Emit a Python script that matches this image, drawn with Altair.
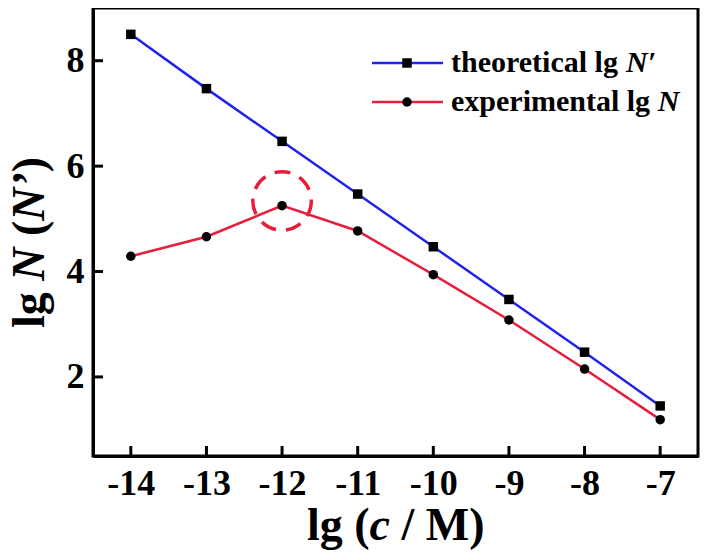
import altair as alt
import pandas as pd

# ---------------- data ----------------
lg_c = [-14, -13, -12, -11, -10, -9, -8, -7]
theoretical = [8.50, 7.47, 6.47, 5.47, 4.47, 3.47, 2.47, 1.45]
experimental = [4.29, 4.66, 5.25, 4.77, 3.94, 3.08, 2.15, 1.19]
x_ticks = [-14, -13, -12, -11, -10, -9, -8, -7]
y_ticks = [2, 4, 6, 8]
highlight_x = [-12]
highlight_y = [5.34]

# ---------------- style ----------------
W, H = 605, 448
BLUE = "#2222ee"
RED = "#e61e3c"
FONT = "Liberation Serif"

xs = alt.Scale(domain=[-14.5, -6.5], nice=False, zero=False)
ys = alt.Scale(domain=[0.5, 9.0], nice=False, zero=False)

x_axis = alt.Axis(values=x_ticks, title=None, ticks=False, grid=False,
                  labelExpr="datum.value + ''", labelFont=FONT, labelFontSize=36,
                  labelFontWeight="bold", labelColor="black", labelPadding=10,
                  labelFlush=False, domainColor="black", domainWidth=3)
y_axis = alt.Axis(values=y_ticks, title=None, ticks=False, grid=False,
                  labelExpr="datum.value + ''", labelFont=FONT, labelFontSize=36,
                  labelFontWeight="bold", labelColor="black", labelPadding=9,
                  labelFlush=False, domainColor="black", domainWidth=3)

df_t = pd.DataFrame({"x": lg_c, "y": theoretical})
df_e = pd.DataFrame({"x": lg_c, "y": experimental})

def xq(f="x"):
    return alt.X(f + ":Q", scale=xs, axis=x_axis)

def yq(f="y"):
    return alt.Y(f + ":Q", scale=ys, axis=y_axis)

theo_line = alt.Chart(df_t).mark_line(color=BLUE, strokeWidth=2.5).encode(x=xq(), y=yq())
theo_pts = alt.Chart(df_t).mark_point(shape="square", filled=True, color="black",
                                      size=90, opacity=1).encode(x=xq(), y=yq())
exp_line = alt.Chart(df_e).mark_line(color=RED, strokeWidth=2.5).encode(x=xq(), y=yq())
exp_pts = alt.Chart(df_e).mark_point(shape="circle", filled=True, color="black",
                                     size=90, opacity=1).encode(x=xq(), y=yq())

ring = alt.Chart(pd.DataFrame({"x": highlight_x, "y": highlight_y})).mark_point(
    shape="circle", filled=False, color=RED, size=3420, strokeWidth=3.5,
    strokeDash=[16, 10], opacity=1).encode(x=xq(), y=yq())

# inward ticks
xt = alt.Chart(pd.DataFrame({"t": x_ticks})).mark_rule(color="black", strokeWidth=3).encode(
    x=xq("t"), y=alt.value(H), y2=alt.value(H - 10))
yt = alt.Chart(pd.DataFrame({"t": y_ticks})).mark_rule(color="black", strokeWidth=3).encode(
    y=yq("t"), x=alt.value(0), x2=alt.value(10))

one = pd.DataFrame({"a": [0]})

def txt(s, x, y, size, italic=False, angle=0, align="left", baseline="alphabetic"):
    kw = dict(text=s, font=FONT, fontSize=size, fontWeight="bold",
              fontStyle="italic" if italic else "normal", align=align,
              baseline=baseline, color="black")
    if angle:
        kw["angle"] = angle
    return alt.Chart(one).mark_text(**kw).encode(x=alt.value(x), y=alt.value(y))

# ---- legend (drawn manually so the marker is black on a coloured line) ----
LF = 30
lx0, lx1, lmx, ltx = 279, 350, 314, 358
r1, r2 = 55, 94
leg = [
    alt.Chart(one).mark_rule(color=BLUE, strokeWidth=2.5).encode(
        x=alt.value(lx0), x2=alt.value(lx1), y=alt.value(r1)),
    alt.Chart(one).mark_point(shape="square", filled=True, color="black", size=90,
                              opacity=1).encode(x=alt.value(lmx), y=alt.value(r1)),
    alt.Chart(one).mark_rule(color=RED, strokeWidth=2.5).encode(
        x=alt.value(lx0), x2=alt.value(lx1), y=alt.value(r2)),
    alt.Chart(one).mark_point(shape="circle", filled=True, color="black", size=90,
                              opacity=1).encode(x=alt.value(lmx), y=alt.value(r2)),
    txt("theoretical lg", ltx, r1, LF, baseline="middle"),
    txt("N\u2032", ltx + 5.832 * LF, r1, LF, italic=True, baseline="middle"),
    txt("experimental lg", ltx, r2, LF, baseline="middle"),
    txt("N", ltx + 6.888 * LF, r2, LF, italic=True, baseline="middle"),
]

# ---- axis titles (pieces, so that c and N are italic) ----
TF = 46
SP = 0.25
xs0 = 214
xb = 532
xtitle = [
    txt("lg (", xs0, xb, TF),
    txt("c", xs0 + 1.361 * TF, xb, TF, italic=True),
    txt("/ M)", xs0 + (1.361 + 0.444 + SP) * TF, xb, TF),
]
yb = -49
ys0 = 320
ytitle = [
    txt("lg", yb, ys0, TF, angle=270),
    txt("N", yb, ys0 - (0.778 + SP) * TF, TF, italic=True, angle=270),
    txt("(", yb, ys0 - (0.778 + SP + 0.722 + SP) * TF, TF, angle=270),
    txt("N\u2019", yb, ys0 - (0.778 + SP + 0.722 + SP + 0.333) * TF, TF, italic=True, angle=270),
    txt(")", yb, ys0 - (0.778 + SP + 0.722 + SP + 0.333 + 1.055) * TF, TF, angle=270),
]

chart = alt.layer(
    theo_line, exp_line, ring, theo_pts, exp_pts, xt, yt, *leg, *xtitle, *ytitle
).properties(
    width=W, height=H,
    autosize=alt.AutoSizeParams(type="none"),
    padding={"left": 85, "top": 0, "right": 2, "bottom": 96},
    background="white",
).configure_view(stroke="black", strokeWidth=3)

chart.save("out.html", embed_options={"renderer": "svg", "actions": False})
